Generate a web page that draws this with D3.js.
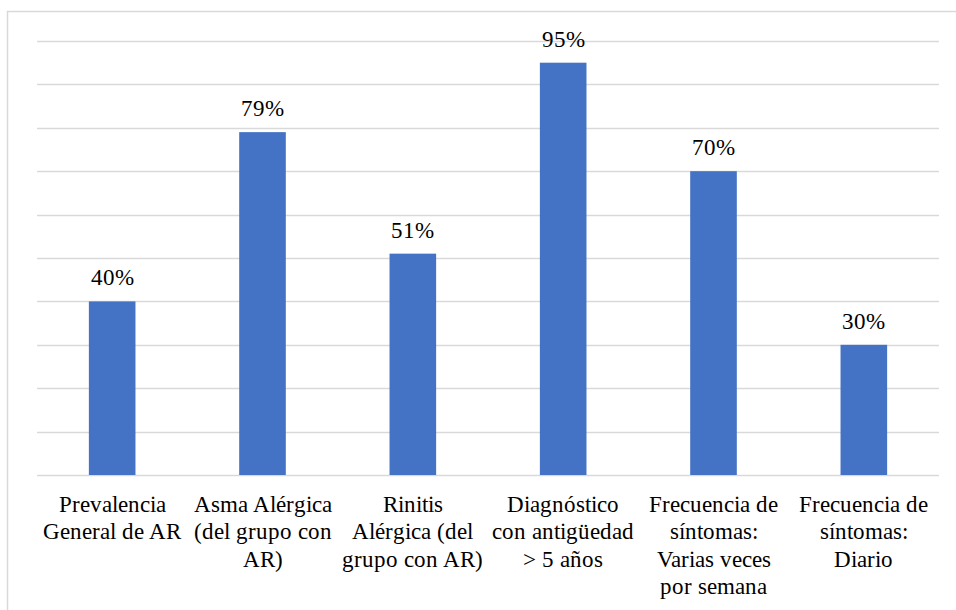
<!DOCTYPE html>
<html>
<head>
<meta charset="utf-8">
<script src="https://cdn.jsdelivr.net/npm/d3@7"></script>
<style>
  @font-face {
    font-family: 'ChartSerif';
    src: local('Liberation Serif'), local('LiberationSerif'), local('LiberationSerif-Regular'), local('Tinos'), local('Times New Roman');
  }
  body { margin: 0; font-family: 'ChartSerif', 'Liberation Serif', 'FreeSerif', 'Nimbus Roman', Georgia; }
  svg { display: block; }
  .lbl { font-family: 'ChartSerif', 'Liberation Serif', 'FreeSerif', 'Nimbus Roman', Georgia; font-size: 23px; fill: #000000; }
</style>
</head>
<body>
<svg id="s" width="956" height="610"></svg>
<script>
const categories = [
  "Prevalencia\nGeneral de AR",
  "Asma Alérgica\n(del grupo con\nAR)",
  "Rinitis\nAlérgica (del\ngrupo con AR)",
  "Diagnóstico\ncon antigüedad\n> 5 años",
  "Frecuencia de\nsíntomas:\nVarias veces\npor semana",
  "Frecuencia de\nsíntomas:\nDiario"
];
const values = [40, 79, 51, 95, 70, 30];
const valueLabels = ["40%", "79%", "51%", "95%", "70%", "30%"];
const gridTicks = [0, 10, 20, 30, 40, 50, 60, 70, 80, 90, 100];

function drawChart() {
  const svg = d3.select("#s");
  svg.selectAll("*").remove();

  svg.append("rect")
    .attr("x", 7.5).attr("y", 11.5)
    .attr("width", 1000).attr("height", 700)
    .attr("fill", "#ffffff")
    .attr("stroke", "#d9d9d9").attr("stroke-width", 1.5);

  const plotLeft = 37, plotRight = 939, plotTop = 41, plotBottom = 475;

  const x = d3.scaleBand()
    .domain(categories)
    .range([plotLeft, plotRight])
    .paddingInner(0.69)
    .paddingOuter(0.345);

  const y = d3.scaleLinear().domain([0, 100]).range([plotBottom, plotTop]);

  svg.append("g")
    .selectAll("line")
    .data(gridTicks)
    .join("line")
    .attr("x1", plotLeft).attr("x2", plotRight)
    .attr("y1", d => Math.round(y(d)) + 0.5)
    .attr("y2", d => Math.round(y(d)) + 0.5)
    .attr("stroke", "#d9d9d9")
    .attr("stroke-width", 1.3);

  svg.append("g")
    .selectAll("rect")
    .data(values)
    .join("rect")
    .attr("x", (d, i) => x(categories[i]))
    .attr("width", x.bandwidth())
    .attr("y", d => y(d))
    .attr("height", d => y(0) - y(d))
    .attr("fill", "#4472C4");

  svg.append("g")
    .selectAll("text")
    .data(values)
    .join("text")
    .attr("class", "lbl")
    .attr("x", (d, i) => x(categories[i]) + x.bandwidth() / 2)
    .attr("y", d => y(d) - 16)
    .attr("text-anchor", "middle")
    .text((d, i) => valueLabels[i]);

  const lab = svg.append("g")
    .selectAll("text")
    .data(categories)
    .join("text")
    .attr("class", "lbl")
    .attr("x", d => x(d) + x.bandwidth() / 2)
    .attr("y", 512)
    .attr("text-anchor", "middle");

  lab.each(function(d) {
    const t = d3.select(this);
    d.split("\n").forEach((line, j) => {
      t.append("tspan")
        .attr("x", x(d) + x.bandwidth() / 2)
        .attr("dy", j === 0 ? 0 : 27.3)
        .text(line);
    });
  });
}

drawChart();
if (document.fonts && document.fonts.load) {
  document.fonts.load("23px 'ChartSerif'").then(drawChart).catch(() => {});
}
</script>
</body>
</html>
